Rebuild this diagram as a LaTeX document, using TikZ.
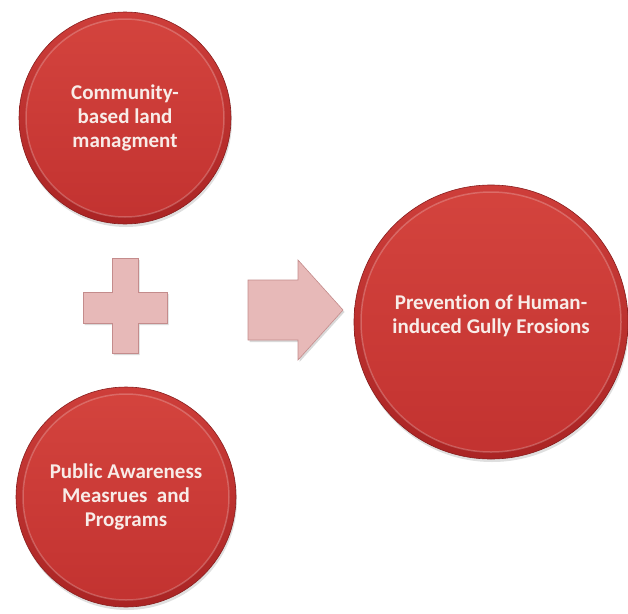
\documentclass[tikz,border=0pt]{standalone}
\usepackage{fontspec}
\setmainfont{Carlito}[Ligatures=NoCommon]
\usetikzlibrary{shadows}

\definecolor{rimdark}{RGB}{170,36,36}
\definecolor{rimlight}{RGB}{206,62,58}
\definecolor{btntop}{RGB}{212,68,62}
\definecolor{btnbottom}{RGB}{194,50,48}
\definecolor{signfill}{RGB}{231,185,184}
\definecolor{signedge}{RGB}{196,140,140}
\definecolor{labeltext}{RGB}{248,236,232}

\tikzset{
  button/.style={circle, inner sep=0pt, minimum size=#1,
    top color=rimlight, bottom color=rimdark, draw=rimdark!80!black, line width=0.6pt,
    drop shadow={shadow xshift=1pt, shadow yshift=-3pt, opacity=.25},
    path picture={\shade[top color=btntop, bottom color=btnbottom,
      draw=white, draw opacity=.22, line width=1.5pt]
      (path picture bounding box.center) circle (#1/2-7pt);},
    text=labeltext, align=center,
    font=\bfseries\fontsize{21}{24}\selectfont},
  sign/.style={fill=signfill, draw=signedge, line width=0.6pt,
    drop shadow={shadow xshift=1.5pt, shadow yshift=-2pt, opacity=.3}}
}

\begin{document}
\begin{tikzpicture}[x=1pt,y=-1pt]
  \useasboundingbox (0,0) rectangle (628,613);

  % Inputs
  \node[button=212pt] (community) at (125,118) {Community-\\based land\\managment};
  \node[button=220pt] (awareness) at (126,497) {Public Awareness\\Measrues\ \ and\\Programs};

  % Result
  \node[button=274pt] (prevention) at (491,322) {Prevention of Human-\\induced Gully Erosions\\[-8pt]};

  % Plus sign
  \coordinate (plus) at (125,306);
  \filldraw[sign] (plus) ++(-13,-48) -- ++(26,0) -- ++(0,34) -- ++(29,0) -- ++(0,31)
    -- ++(-29,0) -- ++(0,30) -- ++(-26,0) -- ++(0,-30) -- ++(-29,0) -- ++(0,-31)
    -- ++(29,0) -- cycle;

  % Block arrow
  \coordinate (tail) at (248,310);
  \filldraw[sign] (tail) ++(0,-30) -- ++(50,0) -- ++(0,-20) -- ++(45,50) -- ++(-45,50)
    -- ++(0,-20) -- ++(-50,0) -- cycle;
\end{tikzpicture}
\end{document}
